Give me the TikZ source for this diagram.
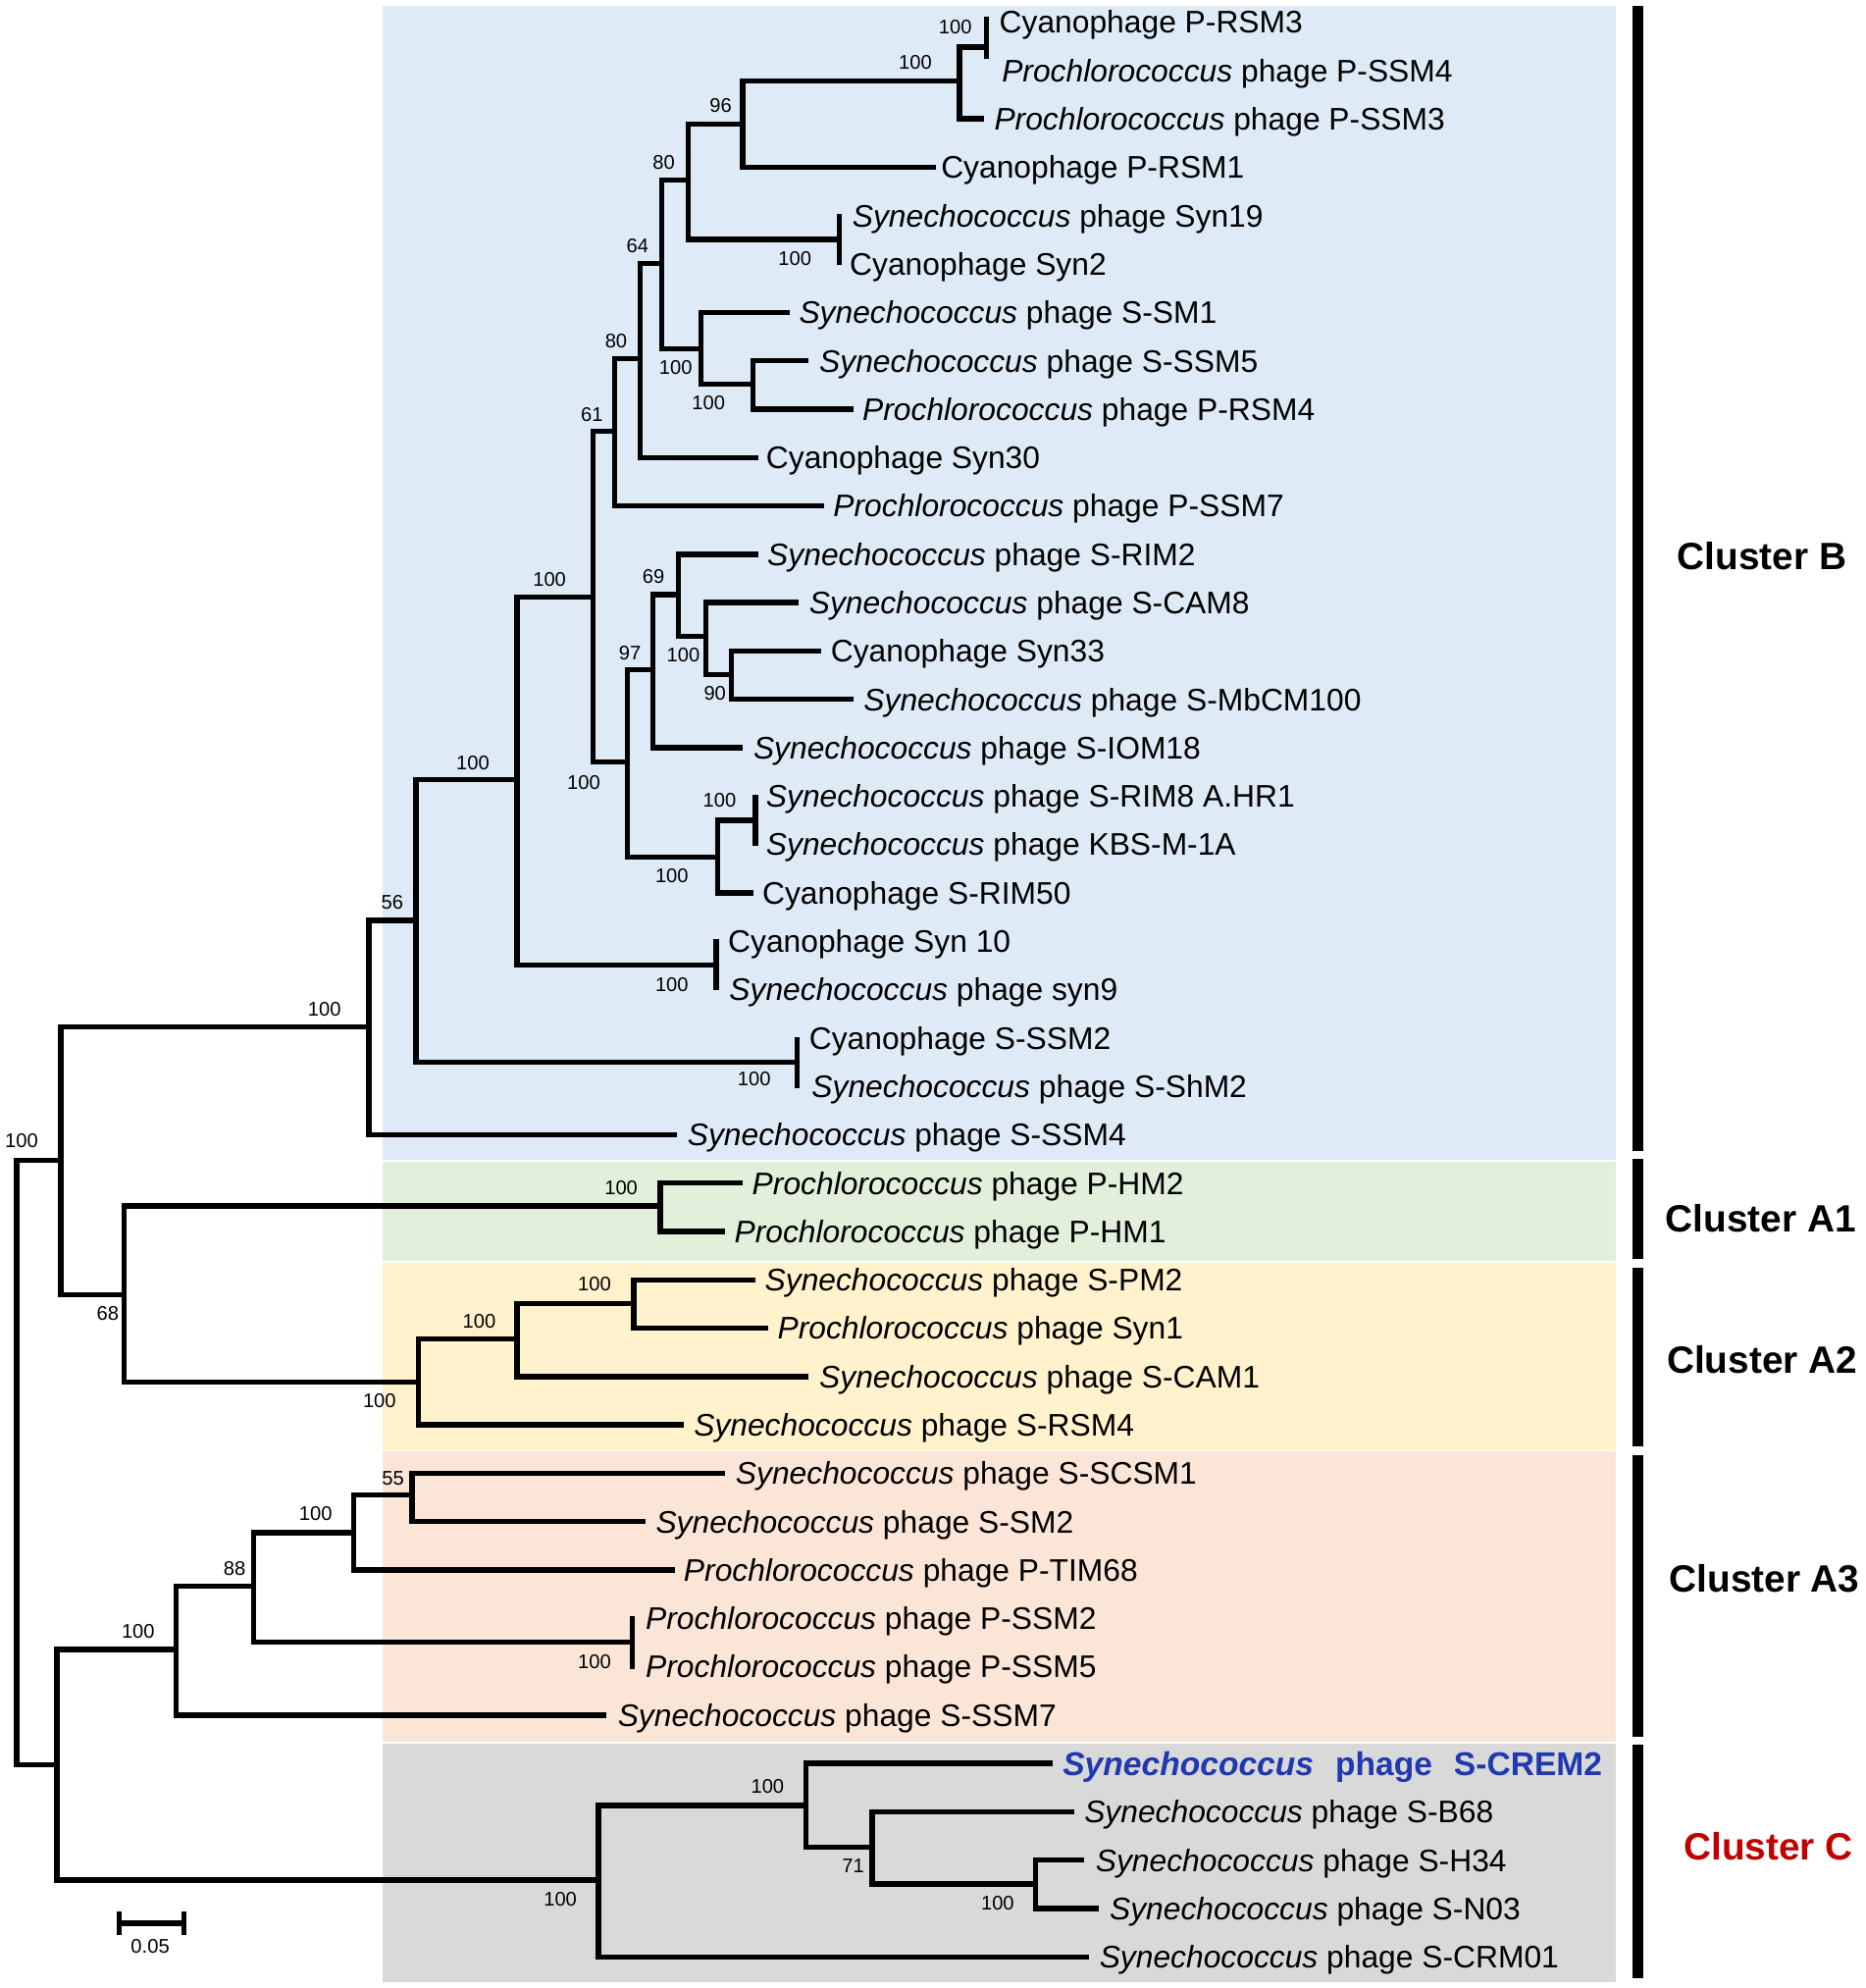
\documentclass[tikz,border=0pt]{standalone}
\usepackage{fontspec}
\setmainfont{Liberation Sans}
\definecolor{bgB}{HTML}{DEEAF6}
\definecolor{bgA1}{HTML}{E2EFDA}
\definecolor{bgA2}{HTML}{FFF2CC}
\definecolor{bgA3}{HTML}{FBE5D6}
\definecolor{bgC}{HTML}{D9D9D9}
\definecolor{cremblue}{RGB}{32,56,176}
\definecolor{cred}{HTML}{C00000}
\tikzset{
  br/.style={line width=2.1pt, line cap=rect, line join=miter},
  leaf/.style={anchor=base west, inner sep=0pt, yshift=-4.4pt, font=\fontsize{12.3}{14}\selectfont},
  bs/.style={inner sep=0pt, font=\fontsize{7.8}{9}\selectfont},
  clab/.style={inner sep=0pt, font=\fontsize{15}{18}\selectfont\bfseries},
  cbar/.style={line width=4.5pt},
}
\begin{document}
\begin{tikzpicture}[x=0.5pt,y=-0.5pt]
\useasboundingbox (0,0) rectangle (1472,1568);
% backgrounds
\fill[bgB]  (302,5)    rectangle (1275,914.5);
\fill[bgA1] (302,916)  rectangle (1275,994.5);
\fill[bgA2] (302,996)  rectangle (1275,1143.5);
\fill[bgA3] (302,1145) rectangle (1275,1373.5);
\fill[bgC]  (302,1375) rectangle (1275,1563);
% internal nodes
\coordinate (root) at (13,1154);
\coordinate (n1) at (48,915);
\coordinate (n2) at (45,1392);
\coordinate (nB) at (291,810);
\coordinate (n68) at (98,1021);
\coordinate (n56) at (328,726);
\coordinate (na) at (408,615);
\coordinate (nb) at (468,471);
\coordinate (n61) at (485,340);
\coordinate (n80b) at (505,283);
\coordinate (n64) at (522,208);
\coordinate (n80a) at (543,142);
\coordinate (n96) at (586,98);
\coordinate (ne) at (757,64);
\coordinate (p12) at (778,37);
\coordinate (p56) at (662,189);
\coordinate (nd) at (553,275);
\coordinate (nf) at (594,303);
\coordinate (nc) at (495,601);
\coordinate (n97) at (515,528);
\coordinate (n69) at (535,469);
\coordinate (nh) at (557,502);
\coordinate (n90) at (577,532);
\coordinate (ng) at (566,676);
\coordinate (p1718) at (596,647);
\coordinate (p2021) at (565,761);
\coordinate (p2223) at (629,838);
\coordinate (nA1) at (521,951);
\coordinate (nA2) at (330,1090);
\coordinate (ni) at (408,1056);
\coordinate (nj) at (500,1028);
\coordinate (nk) at (139,1301);
\coordinate (n88) at (200,1251);
\coordinate (p3435) at (499,1295);
\coordinate (nl) at (279,1209);
\coordinate (n55) at (325,1179);
\coordinate (nC) at (472,1483);
\coordinate (nm) at (636,1424);
\coordinate (n71) at (688,1457);
\coordinate (nn) at (817,1486);
% leaf ends
\coordinate (e3) at (774,93.8);
\coordinate (e4) at (736,131.95);
\coordinate (e7) at (621,246.4);
\coordinate (e8) at (636,284.55);
\coordinate (e9) at (671,322.7);
\coordinate (e10) at (596,360.85);
\coordinate (e11) at (648,399);
\coordinate (e12) at (596,437.15);
\coordinate (e13) at (628,475.3);
\coordinate (e14) at (646,513.45);
\coordinate (e15) at (671,551.6);
\coordinate (e16) at (584,589.75);
\coordinate (e19) at (592,704.2);
\coordinate (e24) at (532,894.95);
\coordinate (e25) at (584,933.1);
\coordinate (e26) at (570,971.25);
\coordinate (e27) at (594,1009.4);
\coordinate (e28) at (604,1047.55);
\coordinate (e29) at (636,1085.7);
\coordinate (e30) at (537,1123.85);
\coordinate (e31) at (570,1162);
\coordinate (e32) at (507,1200.15);
\coordinate (e33) at (530,1238.3);
\coordinate (e36) at (476,1352.75);
\coordinate (e37) at (828,1390.9);
\coordinate (e38) at (845,1429.05);
\coordinate (e39) at (853,1467.2);
\coordinate (e40) at (865,1505.35);
\coordinate (e41) at (857,1543.5);
% pair bars ends
\coordinate (p12t) at (778,15);   \coordinate (p12b) at (778,44);
\coordinate (p56t) at (662,171);  \coordinate (p56b) at (662,207);
\coordinate (p1718t) at (596,629); \coordinate (p1718b) at (596,665);
\coordinate (p2021t) at (565,743); \coordinate (p2021b) at (565,779);
\coordinate (p2223t) at (629,820); \coordinate (p2223b) at (629,856);
\coordinate (p3435t) at (499,1277); \coordinate (p3435b) at (499,1314);
% branches
\draw[br] (root) |- (n1);   \draw[br] (root) |- (n2);
\draw[br] (n1) |- (nB);     \draw[br] (n1) |- (n68);
\draw[br] (nB) |- (n56);    \draw[br] (nB) |- (e24);
\draw[br] (n56) |- (na);    \draw[br] (n56) |- (p2223);
\draw[br] (na) |- (nb);     \draw[br] (na) |- (p2021);
\draw[br] (nb) |- (n61);    \draw[br] (nb) |- (nc);
\draw[br] (n61) |- (n80b);  \draw[br] (n61) |- (e11);
\draw[br] (n80b) |- (n64);  \draw[br] (n80b) |- (e10);
\draw[br] (n64) |- (n80a);  \draw[br] (n64) |- (nd);
\draw[br] (n80a) |- (n96);  \draw[br] (n80a) |- (p56);
\draw[br] (n96) |- (ne);    \draw[br] (n96) |- (e4);
\draw[br] (ne) |- (p12);    \draw[br] (ne) |- (e3);
\draw[br] (nd) |- (e7);     \draw[br] (nd) |- (nf);
\draw[br] (nf) |- (e8);     \draw[br] (nf) |- (e9);
\draw[br] (nc) |- (n97);    \draw[br] (nc) |- (ng);
\draw[br] (n97) |- (n69);   \draw[br] (n97) |- (e16);
\draw[br] (n69) |- (e12);   \draw[br] (n69) |- (nh);
\draw[br] (nh) |- (e13);    \draw[br] (nh) |- (n90);
\draw[br] (n90) |- (e14);   \draw[br] (n90) |- (e15);
\draw[br] (ng) |- (p1718);  \draw[br] (ng) |- (e19);
\draw[br] (n68) |- (nA1);   \draw[br] (n68) |- (nA2);
\draw[br] (nA1) |- (e25);   \draw[br] (nA1) |- (e26);
\draw[br] (nA2) |- (ni);    \draw[br] (nA2) |- (e30);
\draw[br] (ni) |- (nj);     \draw[br] (ni) |- (e29);
\draw[br] (nj) |- (e27);    \draw[br] (nj) |- (e28);
\draw[br] (n2) |- (nk);     \draw[br] (n2) |- (nC);
\draw[br] (nk) |- (n88);    \draw[br] (nk) |- (e36);
\draw[br] (n88) |- (nl);    \draw[br] (n88) |- (p3435);
\draw[br] (nl) |- (n55);    \draw[br] (nl) |- (e33);
\draw[br] (n55) |- (e31);   \draw[br] (n55) |- (e32);
\draw[br] (nC) |- (nm);     \draw[br] (nC) |- (e41);
\draw[br] (nm) |- (e37);    \draw[br] (nm) |- (n71);
\draw[br] (n71) |- (e38);   \draw[br] (n71) |- (nn);
\draw[br] (nn) |- (e39);    \draw[br] (nn) |- (e40);
% pair bars
\draw[br] (p12t) -- (p12b);
\draw[br] (p56t) -- (p56b);
\draw[br] (p1718t) -- (p1718b);
\draw[br] (p2021t) -- (p2021b);
\draw[br] (p2223t) -- (p2223b);
\draw[br] (p3435t) -- (p3435b);
% leaf labels
\node[leaf] (l1) at (788,17.5) {Cyanophage P-RSM3};
\node[leaf] (l2) at (790,55.65) {\textit{Prochlorococcus} phage P-SSM4};
\node[leaf] (l3) at (784,93.8) {\textit{Prochlorococcus} phage P-SSM3};
\node[leaf] (l4) at (742,131.95) {Cyanophage P-RSM1};
\node[leaf] (l5) at (672,170.1) {\textit{Synechococcus} phage Syn19};
\node[leaf] (l6) at (670,208.25) {Cyanophage Syn2};
\node[leaf] (l7) at (630,246.4) {\textit{Synechococcus} phage S-SM1};
\node[leaf] (l8) at (646,284.55) {\textit{Synechococcus} phage S-SSM5};
\node[leaf] (l9) at (680,322.7) {\textit{Prochlorococcus} phage P-RSM4};
\node[leaf] (l10) at (604,360.85) {Cyanophage Syn30};
\node[leaf] (l11) at (657,399) {\textit{Prochlorococcus} phage P-SSM7};
\node[leaf] (l12) at (605,437.15) {\textit{Synechococcus} phage S-RIM2};
\node[leaf] (l13) at (638,475.3) {\textit{Synechococcus} phage S-CAM8};
\node[leaf] (l14) at (655,513.45) {Cyanophage Syn33};
\node[leaf] (l15) at (681,551.6) {\textit{Synechococcus} phage S-MbCM100};
\node[leaf] (l16) at (594,589.75) {\textit{Synechococcus} phage S-IOM18};
\node[leaf] (l17) at (604,627.9) {\textit{Synechococcus} phage S-RIM8 A.HR1};
\node[leaf] (l18) at (604,666.05) {\textit{Synechococcus} phage KBS-M-1A};
\node[leaf] (l19) at (601,704.2) {Cyanophage S-RIM50};
\node[leaf] (l20) at (574,742.35) {Cyanophage Syn 10};
\node[leaf] (l21) at (575,780.5) {\textit{Synechococcus} phage syn9};
\node[leaf] (l22) at (638,818.65) {Cyanophage S-SSM2};
\node[leaf] (l23) at (640,856.8) {\textit{Synechococcus} phage S-ShM2};
\node[leaf] (l24) at (542,894.95) {\textit{Synechococcus} phage S-SSM4};
\node[leaf] (l25) at (593,933.1) {\textit{Prochlorococcus} phage P-HM2};
\node[leaf] (l26) at (579,971.25) {\textit{Prochlorococcus} phage P-HM1};
\node[leaf] (l27) at (603,1009.4) {\textit{Synechococcus} phage S-PM2};
\node[leaf] (l28) at (613,1047.55) {\textit{Prochlorococcus} phage Syn1};
\node[leaf] (l29) at (646,1085.7) {\textit{Synechococcus} phage S-CAM1};
\node[leaf] (l30) at (547,1123.85) {\textit{Synechococcus} phage S-RSM4};
\node[leaf] (l31) at (580,1162) {\textit{Synechococcus} phage S-SCSM1};
\node[leaf] (l32) at (517,1200.15) {\textit{Synechococcus} phage S-SM2};
\node[leaf] (l33) at (539,1238.3) {\textit{Prochlorococcus} phage P-TIM68};
\node[leaf] (l34) at (509,1276.45) {\textit{Prochlorococcus} phage P-SSM2};
\node[leaf] (l35) at (509,1314.6) {\textit{Prochlorococcus} phage P-SSM5};
\node[leaf] (l36) at (487,1352.75) {\textit{Synechococcus} phage S-SSM7};
\node[leaf, yshift=-0.4pt, text=cremblue, font=\fontsize{13}{15}\selectfont\bfseries] (l37) at (838,1390.9) {\textit{Synechococcus}\hspace{8.5pt}phage\hspace{8.5pt}S-CREM2};
\node[leaf] (l38) at (855,1429.05) {\textit{Synechococcus} phage S-B68};
\node[leaf] (l39) at (864,1467.2) {\textit{Synechococcus} phage S-H34};
\node[leaf] (l40) at (875,1505.35) {\textit{Synechococcus} phage S-N03};
\node[leaf] (l41) at (867,1543.5) {\textit{Synechococcus} phage S-CRM01};
% bootstrap values
\node[bs] (b1) at (753.6,21) {100};
\node[bs] (b2) at (722,49) {100};
\node[bs] (b3) at (568.5,83) {96};
\node[bs] (b4) at (523.6,128.5) {80};
\node[bs] (b5) at (627,204) {100};
\node[bs] (b6) at (503,194) {64};
\node[bs] (b7) at (486,269) {80};
\node[bs] (b8) at (533,289.5) {100};
\node[bs] (b9) at (559,318) {100};
\node[bs] (b10) at (467,327) {61};
\node[bs] (b11) at (433.5,457) {100};
\node[bs] (b12) at (515.5,455) {69};
\node[bs] (b13) at (497,515) {97};
\node[bs] (b14) at (539,517) {100};
\node[bs] (b15) at (564,547) {90};
\node[bs] (b16) at (373,602) {100};
\node[bs] (b17) at (460.5,617.5) {100};
\node[bs] (b18) at (567.6,631.5) {100};
\node[bs] (b19) at (530,690.4) {100};
\node[bs] (b20) at (309.4,712) {56};
\node[bs] (b21) at (530,777) {100};
\node[bs] (b22) at (256,796) {100};
\node[bs] (b23) at (595,851) {100};
\node[bs] (b24) at (17,900) {100};
\node[bs] (b25) at (490,937) {100};
\node[bs] (b26) at (469,1013) {100};
\node[bs] (b27) at (85,1036) {68};
\node[bs] (b28) at (378,1042) {100};
\node[bs] (b29) at (299.4,1105) {100};
\node[bs] (b30) at (310,1166) {55};
\node[bs] (b31) at (249,1194) {100};
\node[bs] (b32) at (185,1237) {88};
\node[bs] (b33) at (109,1287) {100};
\node[bs] (b34) at (469,1310.6) {100};
\node[bs] (b35) at (605.5,1409) {100};
\node[bs] (b36) at (673,1471.6) {71};
\node[bs] (b37) at (442,1498) {100};
\node[bs] (b38) at (787,1501) {100};
% scale bar
\coordinate (sbl) at (94,1517);
\coordinate (sbr) at (145,1517);
\draw[br] (sbl) -- (sbr);
\draw[br] ([yshift=3.6pt]sbl) -- ([yshift=-3.6pt]sbl);
\draw[br] ([yshift=3.6pt]sbr) -- ([yshift=-3.6pt]sbr);
\node[bs] (sbt) at (118.5,1535) {0.05};
% cluster bars
\coordinate (cBt) at (1292,5);     \coordinate (cBb) at (1292,908);
\coordinate (cA1t) at (1292,914);  \coordinate (cA1b) at (1292,993);
\coordinate (cA2t) at (1292,1000); \coordinate (cA2b) at (1292,1141);
\coordinate (cA3t) at (1292,1148); \coordinate (cA3b) at (1292,1370);
\coordinate (cCt) at (1292,1376);  \coordinate (cCb) at (1292,1560);
\draw[cbar] (cBt) -- (cBb);
\draw[cbar] (cA1t) -- (cA1b);
\draw[cbar] (cA2t) -- (cA2b);
\draw[cbar] (cA3t) -- (cA3b);
\draw[cbar] (cCt) -- (cCb);
\node[clab] (tB) at (1390,438.5) {Cluster B};
\node[clab] (tA1) at (1389,961) {Cluster A1};
\node[clab] (tA2) at (1390,1072.5) {Cluster A2};
\node[clab] (tA3) at (1392,1245) {Cluster A3};
\node[clab, text=cred] (tC) at (1395,1456) {Cluster C};
\end{tikzpicture}
\end{document}
